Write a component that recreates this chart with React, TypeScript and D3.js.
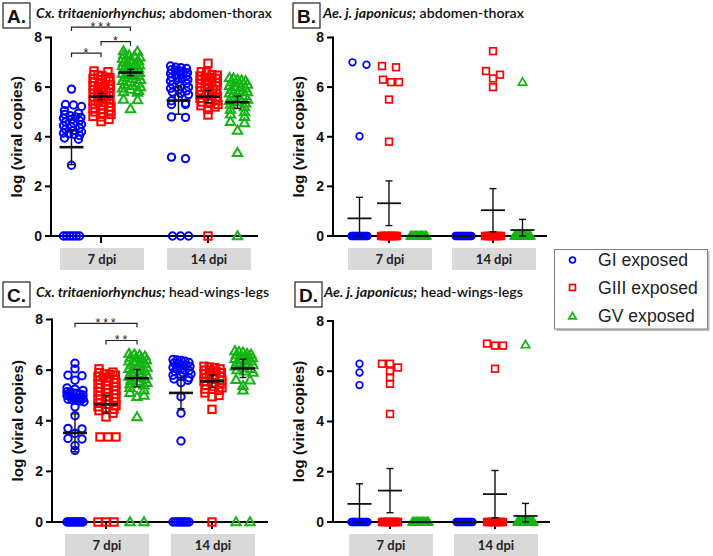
import React from "react";
import * as d3 from "d3";

const CATEGORIES = ["7 dpi", "14 dpi"];
const GROUPS = ["GI exposed", "GIII exposed", "GV exposed"];
const GROUP_COLORS = ["#0000ff", "#ff0000", "#14b414"];
const Y_TICKS = [0, 2, 4, 6, 8];

// ---------- Panel A: Cx. tritaeniorhynchus; abdomen-thorax ----------
const A_7_GI = [5.92, 5.3, 5.28, 5.22, 5.05, 4.95, 4.9, 4.85, 4.8, 4.78, 4.75, 4.7, 4.65, 4.6, 4.55, 4.5, 4.45, 4.4, 4.35, 4.3, 4.25, 4.2, 4.15, 4.12, 4.1, 4.05, 3.95, 3.9, 2.85, 0, 0, 0, 0, 0, 0];
const A_7_GIII = [6.65, 6.62, 6.5, 6.48, 6.45, 6.4, 6.38, 6.35, 6.3, 6.25, 6.2, 6.15, 6.1, 6.08, 6.05, 6.0, 5.98, 5.95, 5.9, 5.88, 5.85, 5.8, 5.78, 5.75, 5.7, 5.68, 5.65, 5.6, 5.58, 5.55, 5.5, 5.48, 5.45, 5.4, 5.38, 5.35, 5.3, 5.25, 5.2, 5.15, 5.1, 5.05, 5.0, 4.95, 4.9, 4.82, 4.8, 4.7, 4.61];
const A_7_GV = [7.45, 7.43, 7.3, 7.28, 7.25, 7.2, 7.15, 7.1, 7.05, 7.0, 6.98, 6.95, 6.9, 6.88, 6.85, 6.8, 6.78, 6.75, 6.7, 6.68, 6.65, 6.6, 6.58, 6.55, 6.5, 6.48, 6.45, 6.4, 6.35, 6.3, 6.25, 6.2, 6.15, 6.1, 6.05, 6.0, 5.95, 5.9, 5.85, 5.8, 5.78, 5.5, 5.48, 5.12];
const A_14_GI = [6.85, 6.8, 6.78, 6.75, 6.7, 6.68, 6.65, 6.6, 6.58, 6.55, 6.5, 6.48, 6.45, 6.4, 6.38, 6.35, 6.3, 6.25, 6.2, 6.15, 6.1, 6.05, 6.0, 5.95, 5.9, 5.85, 5.8, 5.75, 5.7, 5.6, 5.45, 5.35, 5.3, 5.3, 4.8, 4.78, 3.12, 3.18, 0, 0, 0];
const A_14_GIII = [6.96, 6.62, 6.6, 6.5, 6.48, 6.45, 6.4, 6.38, 6.35, 6.3, 6.25, 6.2, 6.18, 6.15, 6.1, 6.05, 6.0, 5.98, 5.95, 5.9, 5.88, 5.85, 5.8, 5.75, 5.7, 5.68, 5.65, 5.6, 5.55, 5.5, 5.45, 5.4, 5.35, 5.3, 5.25, 5.2, 5.1, 4.88, 0];
const A_14_GV = [6.38, 6.36, 6.3, 6.28, 6.25, 6.2, 6.15, 6.1, 6.05, 6.0, 5.98, 5.95, 5.9, 5.85, 5.8, 5.75, 5.7, 5.65, 5.6, 5.55, 5.5, 5.45, 5.4, 5.35, 5.3, 5.2, 5.1, 5.0, 4.9, 4.8, 4.6, 4.55, 4.25, 3.35, 0];
const A_MEANS = [3.58, 5.62, 6.59, 5.46, 5.62, 5.39];
const A_ERRS = [0.7, 0.13, 0.13, 0.55, 0.25, 0.25];

// ---------- Panel B: Ae. j. japonicus; abdomen-thorax ----------
const B_7_GI = [6.9, 7.0, 4.02, 0, 0, 0, 0, 0, 0, 0, 0, 0, 0, 0, 0, 0, 0];
const B_7_GIII = [6.8, 6.85, 6.3, 6.2, 6.2, 5.5, 3.8, 0, 0, 0, 0, 0, 0, 0, 0, 0, 0, 0, 0, 0, 0];
const B_7_GV = [0, 0, 0, 0, 0, 0, 0, 0, 0, 0, 0, 0, 0, 0];
const B_14_GI = [0, 0, 0, 0, 0, 0, 0, 0, 0, 0, 0, 0, 0, 0];
const B_14_GIII = [7.45, 6.65, 6.5, 6.35, 6.0, 0, 0, 0, 0, 0, 0, 0, 0, 0, 0, 0, 0];
const B_14_GV = [6.2, 0, 0, 0, 0, 0, 0, 0, 0, 0, 0, 0, 0, 0, 0];
const B_MEANS = [0.71, 1.32, 0, 0, 1.04, 0.24];
const B_ERRS = [0.85, 0.9, 0, 0, 0.87, 0.43];

// ---------- Panel C: Cx. tritaeniorhynchus; head-wings-legs ----------
const C_7_GI = [6.27, 6.05, 5.8, 5.78, 5.6, 5.3, 5.25, 5.2, 5.15, 5.12, 5.1, 5.08, 5.05, 5.02, 5.0, 4.98, 4.97, 4.95, 4.93, 4.92, 4.9, 4.88, 4.87, 4.85, 4.83, 4.8, 4.78, 4.75, 4.55, 4.2, 3.7, 3.68, 3.5, 3.3, 3.28, 3.02, 2.83, 0, 0, 0, 0, 0, 0, 0, 0, 0, 0];
const C_7_GIII = [6.05, 5.92, 5.9, 5.85, 5.82, 5.8, 5.75, 5.72, 5.7, 5.65, 5.6, 5.55, 5.5, 5.45, 5.4, 5.35, 5.3, 5.25, 5.2, 5.15, 5.1, 5.05, 5.0, 4.95, 4.9, 4.85, 4.8, 4.75, 4.7, 4.65, 4.6, 4.55, 4.5, 4.45, 4.4, 4.3, 4.15, 3.36, 3.36, 3.36, 0, 0, 0];
const C_7_GV = [6.65, 6.63, 6.6, 6.55, 6.5, 6.48, 6.45, 6.4, 6.35, 6.3, 6.28, 6.25, 6.2, 6.15, 6.1, 6.05, 6.0, 5.98, 5.95, 5.9, 5.85, 5.8, 5.75, 5.7, 5.65, 5.6, 5.55, 5.5, 5.45, 5.4, 5.3, 5.2, 5.1, 5.0, 4.95, 4.15, 0, 0];
const C_14_GI = [6.42, 6.4, 6.38, 6.35, 6.3, 6.28, 6.25, 6.2, 6.18, 6.15, 6.1, 6.08, 6.05, 6.0, 5.98, 5.95, 5.9, 5.85, 5.8, 5.75, 5.7, 5.65, 5.6, 5.5, 4.95, 4.3, 3.2, 0, 0, 0, 0, 0, 0, 0, 0];
const C_14_GIII = [6.15, 6.12, 6.1, 6.05, 6.0, 5.98, 5.95, 5.9, 5.85, 5.8, 5.78, 5.75, 5.7, 5.65, 5.6, 5.55, 5.5, 5.45, 5.4, 5.35, 5.3, 5.25, 5.2, 5.1, 5.0, 4.95, 4.45, 0];
const C_14_GV = [6.75, 6.72, 6.7, 6.65, 6.62, 6.6, 6.55, 6.5, 6.48, 6.45, 6.4, 6.38, 6.35, 6.3, 6.25, 6.2, 6.15, 6.1, 6.05, 6.0, 5.95, 5.9, 5.62, 5.6, 5.38, 5.2, 0, 0];
const C_MEANS = [3.52, 4.65, 5.68, 5.1, 5.56, 6.07];
const C_ERRS = [0.75, 0.36, 0.34, 0.62, 0.25, 0.36];

// ---------- Panel D: Ae. j. japonicus; head-wings-legs ----------
const D_7_GI = [6.3, 5.95, 5.45, 0, 0, 0, 0, 0, 0, 0, 0, 0, 0, 0, 0, 0, 0];
const D_7_GIII = [6.3, 6.3, 6.15, 6.0, 5.75, 5.5, 4.3, 0, 0, 0, 0, 0, 0, 0, 0, 0, 0, 0, 0, 0, 0];
const D_7_GV = [0, 0, 0, 0, 0, 0, 0, 0, 0, 0, 0, 0, 0, 0];
const D_14_GI = [0, 0, 0, 0, 0, 0, 0, 0, 0, 0, 0, 0, 0, 0];
const D_14_GIII = [7.1, 7.02, 7.02, 6.1, 0, 0, 0, 0, 0, 0, 0, 0, 0, 0, 0, 0];
const D_14_GV = [7.05, 0, 0, 0, 0, 0, 0, 0, 0, 0, 0, 0, 0, 0, 0];
const D_MEANS = [0.72, 1.25, 0, 0, 1.11, 0.24];
const D_ERRS = [0.8, 0.88, 0, 0, 0.94, 0.5];

// significance brackets: [group a, group b, y value, label]
const A_SIG: [number, number, number, string][] = [
  [0, 2, 8.42, "***"],
  [1, 2, 7.83, "*"],
  [0, 1, 7.37, "*"],
];
const C_SIG: [number, number, number, string][] = [
  [0, 2, 7.85, "***"],
  [1, 2, 7.17, "**"],
];

type PanelDef = {
  label: string;
  species: string;
  part: string;
  series: number[][];
  means: number[];
  errs: number[];
  sig: [number, number, number, string][];
  axisX: number;
  axisEnd: number;
  y0: number;
  y8: number;
  cat: [number, number];
  off: number;
  boxX: number;
  boxY: number;
  titleX: number;
  titleW: number;
  big: boolean;
};

const PANELS: PanelDef[] = [
  {
    label: "A.", species: "Cx. tritaeniorhynchus;", part: " abdomen-thorax",
    series: [A_7_GI, A_7_GIII, A_7_GV, A_14_GI, A_14_GIII, A_14_GV],
    means: A_MEANS, errs: A_ERRS, sig: A_SIG,
    axisX: 51, axisEnd: 258, y0: 236, y8: 37.5, cat: [101, 208], off: 29.5,
    boxX: 3, boxY: 3, titleX: 36, titleW: 236, big: true,
  },
  {
    label: "B.", species: "Ae. j. japonicus;", part: " abdomen-thorax",
    series: [B_7_GI, B_7_GIII, B_7_GV, B_14_GI, B_14_GIII, B_14_GV],
    means: B_MEANS, errs: B_ERRS, sig: [],
    axisX: 333, axisEnd: 547, y0: 236, y8: 37.5, cat: [389, 493], off: 29.5,
    boxX: 293, boxY: 3, titleX: 323, titleW: 201, big: false,
  },
  {
    label: "C.", species: "Cx. tritaeniorhynchus;", part: " head-wings-legs",
    series: [C_7_GI, C_7_GIII, C_7_GV, C_14_GI, C_14_GIII, C_14_GV],
    means: C_MEANS, errs: C_ERRS, sig: C_SIG,
    axisX: 52, axisEnd: 268, y0: 522, y8: 319.5, cat: [106, 212], off: 31,
    boxX: 3, boxY: 282, titleX: 36, titleW: 233, big: true,
  },
  {
    label: "D.", species: "Ae. j. japonicus;", part: " head-wings-legs",
    series: [D_7_GI, D_7_GIII, D_7_GV, D_14_GI, D_14_GIII, D_14_GV],
    means: D_MEANS, errs: D_ERRS, sig: [],
    axisX: 333, axisEnd: 550, y0: 522, y8: 321, cat: [390, 495], off: 30.5,
    boxX: 295, boxY: 282, titleX: 324, titleW: 199, big: false,
  },
];

function swarm(values: number[], y: (v: number) => number, rowH: number, maxW: number) {
  const pts = values.map((v) => ({ v, py: y(v) })).sort((a, b) => a.py - b.py);
  const out: { v: number; py: number; dx: number }[] = [];
  let i = 0;
  let r = 0;
  while (i < pts.length) {
    const start = pts[i].py;
    let j = i;
    while (j < pts.length && pts[j].py - start <= rowH) j++;
    const row = pts.slice(i, j);
    const n = row.length;
    const sp = n === 1 ? 0 : n === 2 ? 14 : Math.min(8, maxW / (n - 1));
    const shift = n >= 3 && n < 6 && r % 2 === 1 ? sp / 4 : 0;
    row.forEach((p, k) => out.push({ v: p.v, py: p.py, dx: (k - (n - 1) / 2) * sp + shift }));
    i = j;
    r++;
  }
  return out;
}

function Marker({ g, x, y, size }: { g: number; x: number; y: number; size: number }) {
  const c = GROUP_COLORS[g];
  const sw = size >= 1 ? 2 : 1.7;
  if (g === 0) return <circle cx={x} cy={y} r={3.7 * size} fill="none" stroke={c} strokeWidth={sw} />;
  if (g === 1) {
    const s = 7.4 * size;
    return <rect x={x - s / 2} y={y - s / 2} width={s} height={s} fill="none" stroke={c} strokeWidth={sw} />;
  }
  const w = 4.7 * size;
  return (
    <path
      d={`M${x},${y - 4.8 * size}L${x + w},${y + 3.2 * size}L${x - w},${y + 3.2 * size}Z`}
      fill="none"
      stroke={c}
      strokeWidth={sw}
    />
  );
}

function Panel({ p }: { p: PanelDef }) {
  const y = d3.scaleLinear().domain([0, 8]).range([p.y0, p.y8]);
  const xc = d3.scalePoint<string>().domain(CATEGORIES).range(p.cat);
  const xg = d3.scalePoint<string>().domain(GROUPS).range([-p.off, p.off]);
  const colX = (i: number) => (xc(CATEGORIES[Math.floor(i / 3)]) as number) + (xg(GROUPS[i % 3]) as number);
  const sans = "'Liberation Sans', Arial, sans-serif";
  const cal = "Lato, 'Open Sans', sans-serif";
  const msize = p.big ? 1 : 0.9;
  const rowH = p.big ? 3.5 : 5;
  return (
    <g>
      <rect x={p.boxX} y={p.boxY} width={27} height={25} fill="#fff" stroke="#222" strokeWidth={1.2} />
      <text x={p.boxX + 13.5} y={p.boxY + 19.5} textAnchor="middle" fontFamily={sans} fontWeight="bold" fontSize={19} fill="#111">
        {p.label}
      </text>
      <text
        x={p.titleX}
        y={p.boxY + 14.5}
        fontFamily={cal}
        fontSize={13}
        fontWeight={700}
        fill="#111"
        textLength={p.titleW}
        lengthAdjust="spacingAndGlyphs"
      >
        <tspan fontStyle="italic">{p.species}</tspan>
        <tspan fontWeight={600}>{p.part}</tspan>
      </text>
      {CATEGORIES.map((c) => (
        <g key={c}>
          <rect x={(xc(c) as number) - 41} y={p.y0 + 12} width={84} height={22} fill="#d9d9d9" />
          <text x={(xc(c) as number) + 1} y={p.y0 + 27.5} textAnchor="middle" fontFamily={cal} fontWeight="bold" fontSize={13} fill="#222">
            {c}
          </text>
        </g>
      ))}
      <line x1={p.axisX} x2={p.axisX} y1={p.y8 - 1} y2={p.y0 + 1} stroke="#000" strokeWidth={2} />
      <line x1={p.axisX - 1} x2={p.axisEnd} y1={p.y0} y2={p.y0} stroke="#000" strokeWidth={2} />
      {Y_TICKS.map((t) => (
        <g key={t}>
          <line x1={p.axisX - 6} x2={p.axisX} y1={y(t)} y2={y(t)} stroke="#000" strokeWidth={2} />
          <text x={p.axisX - 9} y={y(t) + 4.8} textAnchor="end" fontFamily={sans} fontWeight="bold" fontSize={14} fill="#111">
            {t}
          </text>
        </g>
      ))}
      {CATEGORIES.map((c) => (
        <line key={c} x1={xc(c) as number} x2={xc(c) as number} y1={p.y0} y2={p.y0 + 7} stroke="#000" strokeWidth={2} />
      ))}
      <text
        transform={`translate(${p.axisX - 35},${(p.y0 + p.y8) / 2}) rotate(-90)`}
        textAnchor="middle"
        dominantBaseline="central"
        fontFamily={sans}
        fontWeight="bold"
        fontSize={15.3}
        fill="#111"
      >
        log (viral copies)
      </text>
      {p.series.map((vals, i) => {
        const cx = colX(i);
        return (
          <g key={i}>
            {swarm(vals, y, rowH, 16).map((pt, k) => (
              <Marker key={k} g={i % 3} x={cx + pt.dx} y={pt.py} size={msize} />
            ))}
          </g>
        );
      })}
      {p.means.map((m, i) => {
        const cx = colX(i);
        const e = p.errs[i];
        const lo = y(Math.max(0, m - e));
        const hi = y(m + e);
        return (
          <g key={i} stroke="#111">
            <line x1={cx} x2={cx} y1={hi} y2={lo} strokeWidth={1.4} />
            <line x1={cx - 3.5} x2={cx + 3.5} y1={hi} y2={hi} strokeWidth={1.4} />
            <line x1={cx - 3.5} x2={cx + 3.5} y1={lo} y2={lo} strokeWidth={1.4} />
            <line x1={cx - 12} x2={cx + 12} y1={y(m)} y2={y(m)} strokeWidth={p.big ? 2.6 : 1.8} />
          </g>
        );
      })}
      {p.sig.map(([a, b, v, lab], i) => {
        const x1 = colX(a);
        const x2 = colX(b);
        const yb = y(v);
        return (
          <g key={i}>
            <path d={`M${x1},${yb + 4}V${yb}H${x2}V${yb + 4}`} fill="none" stroke="#222" strokeWidth={1.2} />
            <text x={(x1 + x2) / 2 + 1} y={yb + 3.5} textAnchor="middle" fontFamily={sans} fontSize={12.5} letterSpacing={2.8} fill="#222">
              {lab}
            </text>
          </g>
        );
      })}
    </g>
  );
}

function Legend() {
  const x0 = 554.5;
  const y0 = 249.5;
  const w = 153;
  const h = 79.5;
  const rows = [260, 287.5, 315.5];
  return (
    <g>
      <rect x={x0 + 2} y={y0 + 2} width={w} height={h} fill="#bdbdbd" />
      <rect x={x0} y={y0} width={w} height={h} fill="#fff" stroke="#808080" strokeWidth={1} />
      {GROUPS.map((g, i) => (
        <g key={g}>
          <Marker g={i} x={572.5} y={rows[i] + (i === 2 ? 0.8 : 0)} size={0.8} />
          <text x={598} y={rows[i] + 6.3} fontFamily="'Liberation Sans', Arial, sans-serif" fontSize={17.6} fill="#222">
            {g}
          </text>
        </g>
      ))}
    </g>
  );
}

export default function App() {
  return (
    <svg width={713} height={556} style={{ position: "absolute", left: 0, top: 0, background: "#fff" }}>
      <rect x={0} y={0} width={713} height={556} fill="#fff" />
      {PANELS.map((p) => (
        <Panel key={p.label} p={p} />
      ))}
      <Legend />
    </svg>
  );
}
